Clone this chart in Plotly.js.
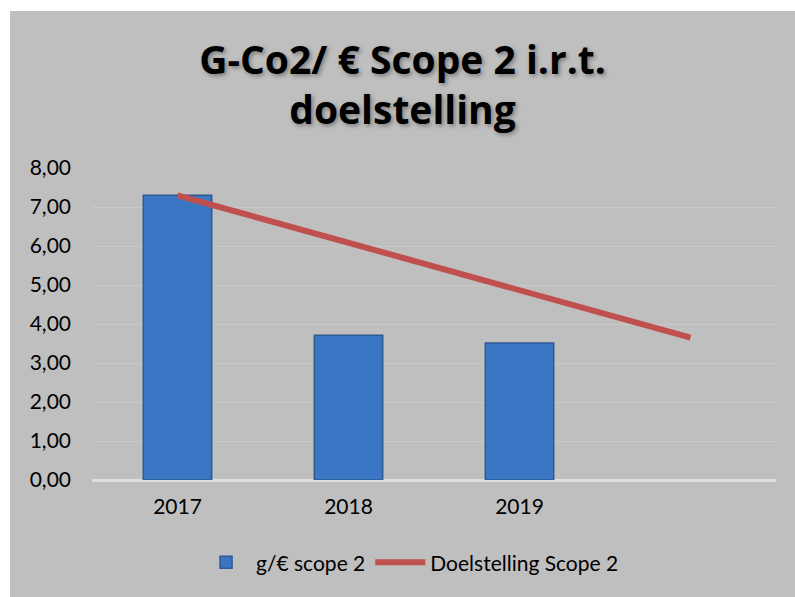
<!DOCTYPE html>
<html>
<head>
<meta charset="utf-8">
<script src="https://cdn.plot.ly/plotly-3.0.1.min.js"></script>
<style>
html,body{margin:0;padding:0;background:#ffffff;}
#chart{position:absolute;left:10px;top:11px;width:785px;height:586px;}
</style>
</head>
<body>
<div id="chart"></div>
<script>
const categories = ["2017", "2018", "2019", "2020"];
const tickLabels = ["2017", "2018", "2019"];
const scopeValues = [7.30, 3.71, 3.51];
const targetValues = [7.30, 6.08, 4.87, 3.65];
const yTicks = [0, 1, 2, 3, 4, 5, 6, 7, 8];
const yTickLabels = ["0,00", "1,00", "2,00", "3,00", "4,00", "5,00", "6,00", "7,00", "8,00"];

const bars = {
  type: 'bar',
  name: 'g/€ scope 2',
  x: categories.slice(0, scopeValues.length),
  y: scopeValues,
  width: 0.4,
  marker: {color: '#3a76c4', line: {color: '#2d5a92', width: 1.5}},
  hoverinfo: 'skip'
};
const line = {
  type: 'scatter',
  mode: 'lines',
  name: 'Doelstelling Scope 2',
  x: categories,
  y: targetValues,
  line: {color: '#c0504d', width: 6},
  hoverinfo: 'skip'
};

const layout = {
  width: 785, height: 586,
  paper_bgcolor: '#bfbfbf',
  plot_bgcolor: '#bfbfbf',
  margin: {l: 82, r: 19, t: 157, b: 117},
  title: {
    text: '<b>G-Co2/ € Scope 2 i.r.t.<br>doelstelling</b>',
    font: {family: 'Open Sans, sans-serif', size: 39, color: '#000000', shadow: '2px 2px 4px rgba(0,0,0,0.35)'},
    x: 0.5, xanchor: 'center',
    y: 0.893, yanchor: 'top'
  },
  xaxis: {
    type: 'category',
    categoryorder: 'array',
    categoryarray: categories,
    range: [-0.5, 3.5],
    tickmode: 'array',
    tickvals: tickLabels,
    ticktext: tickLabels,
    showgrid: false,
    zeroline: false,
    showline: false,
    ticks: '',
    ticklabelstandoff: 12,
    tickfont: {family: 'Lato, sans-serif', size: 21, color: '#000000'}
  },
  yaxis: {
    range: [0, 8],
    tickmode: 'array',
    tickvals: yTicks,
    ticktext: yTickLabels,
    showgrid: true,
    gridcolor: '#c9c9c9',
    gridwidth: 1,
    zeroline: true,
    zerolinecolor: '#dedede',
    zerolinewidth: 3,
    showline: false,
    ticks: '',
    ticklabelstandoff: 20,
    tickfont: {family: 'Lato, sans-serif', size: 21, color: '#000000'}
  },
  showlegend: true,
  legend: {
    orientation: 'h',
    x: 0.465, xanchor: 'center',
    y: -0.265, yanchor: 'middle',
    bgcolor: 'rgba(0,0,0,0)',
    font: {family: 'Lato, sans-serif', size: 21, color: '#000000'},
    traceorder: 'normal',
    itemwidth: 50
  }
};

Plotly.newPlot('chart', [bars, line], layout, {displayModeBar: false, staticPlot: true});
</script>
</body>
</html>
